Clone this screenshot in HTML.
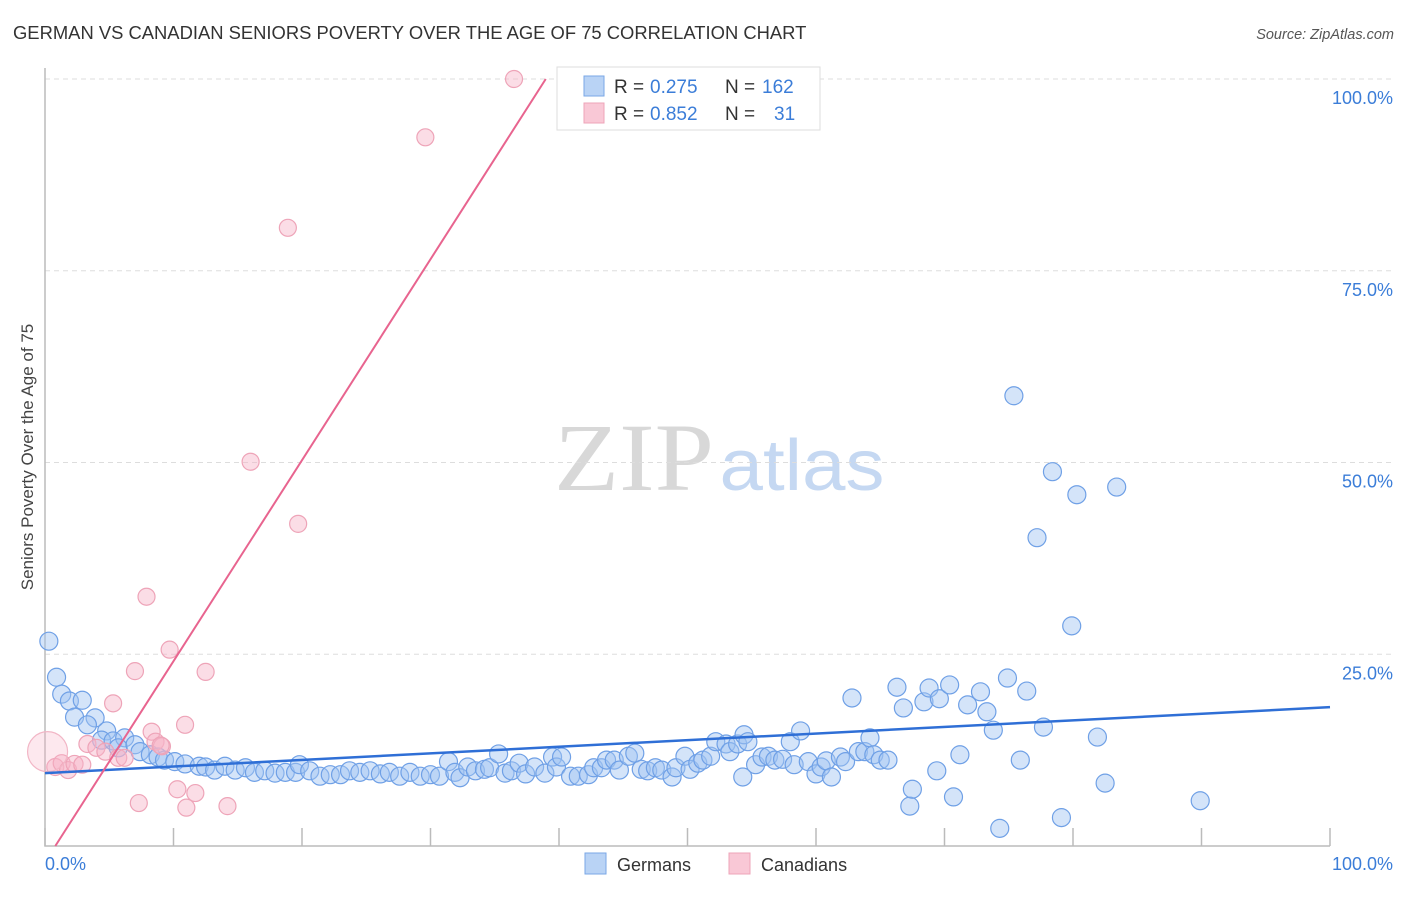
<!DOCTYPE html>
<html><head><meta charset="utf-8"><style>
body{margin:0;background:#fff;font-family:"Liberation Sans",sans-serif}
</style></head><body>
<svg id="c" width="1406" height="892" xmlns="http://www.w3.org/2000/svg">
<text x="13" y="39" font-size="18.4" fill="#333">GERMAN VS CANADIAN SENIORS POVERTY OVER THE AGE OF 75 CORRELATION CHART</text>
<text x="1394" y="39" font-size="14.5" fill="#555" font-style="italic" text-anchor="end">Source: ZipAtlas.com</text>
<text x="33" y="457" font-size="17" fill="#444" text-anchor="middle" transform="rotate(-90 33 457)">Seniors Poverty Over the Age of 75</text>
<g>
<text x="634" y="490" font-size="96" fill="#d8d8d8" font-family="Liberation Serif,serif" text-anchor="middle" textLength="160" lengthAdjust="spacingAndGlyphs">ZIP</text>
<text x="802" y="490" font-size="72" fill="#c5d8f2" text-anchor="middle" textLength="165" lengthAdjust="spacingAndGlyphs">atlas</text>
</g>
<g id="grid"></g><g id="axes"></g><g id="pts"></g><g id="lines"></g>
<g>
<rect x="557" y="67" width="263" height="63" fill="#fff" stroke="#ddd"/>
<rect x="584" y="76" width="20" height="20" fill="#b9d3f5" stroke="#7aa7e6"/>
<rect x="584" y="103" width="20" height="20" fill="#f9c8d6" stroke="#eea4b8"/>
<text x="614" y="93" font-size="19" fill="#333">R = </text><text x="650" y="93" font-size="19" fill="#3b7dd8">0.275</text>
<text x="725" y="93" font-size="19" fill="#333">N = </text><text x="762" y="93" font-size="19" fill="#3b7dd8">162</text>
<text x="614" y="120" font-size="19" fill="#333">R = </text><text x="650" y="120" font-size="19" fill="#3b7dd8">0.852</text>
<text x="725" y="120" font-size="19" fill="#333">N = </text><text x="774" y="120" font-size="19" fill="#3b7dd8">31</text>
</g>
<g>
<rect x="585" y="853" width="21" height="21" fill="#b9d3f5" stroke="#7aa7e6"/>
<text x="617" y="871" font-size="18" fill="#333">Germans</text>
<rect x="729" y="853" width="21" height="21" fill="#f9c8d6" stroke="#eea4b8"/>
<text x="761" y="871" font-size="18" fill="#333">Canadians</text>
</g>
<text x="45" y="870" font-size="18" fill="#3b7dd8">0.0%</text>
<text x="1393" y="870" font-size="18" fill="#3b7dd8" text-anchor="end">100.0%</text>
</svg>
<script>
const yTicks=[25,50,75,100];
const yTickLabels=["25.0%","50.0%","75.0%","100.0%"];
const xTicks=[0,10,20,30,40,50,60,70,80,90,100];
const blueX=[0.3,0.9,1.3,1.9,2.9,2.3,3.9,3.3,4.8,4.4,5.3,6.2,5.7,7.0,7.4,8.2,8.8,9.3,10.1,10.9,12.0,12.5,13.2,14.0,14.8,15.6,16.3,17.1,17.9,18.7,19.5,19.8,20.6,21.4,22.2,23.0,23.7,24.5,25.3,26.1,26.8,27.6,28.4,29.2,30.0,30.7,31.4,31.9,32.3,32.9,33.5,34.2,34.6,35.3,35.8,36.3,36.9,37.4,38.1,38.9,39.5,39.8,40.2,40.9,41.5,42.3,42.7,43.3,43.7,44.3,44.7,45.4,45.9,46.4,46.9,47.5,48.0,48.8,49.1,49.8,50.2,50.8,51.2,51.8,52.2,53.0,53.3,53.9,54.4,54.7,54.3,55.3,55.8,56.3,56.8,57.4,58.0,58.8,58.3,59.4,60.0,60.4,60.8,61.2,61.9,62.3,63.3,63.8,64.2,64.5,65.0,65.6,62.8,66.3,66.8,67.3,67.5,68.4,68.8,69.4,69.6,70.4,70.7,71.2,71.8,72.8,73.3,73.8,74.3,74.9,75.4,75.9,76.4,77.2,77.7,78.4,79.1,79.9,80.3,81.9,82.5,83.4,89.9];
const blueY=[26.7,22.0,19.8,18.9,19.0,16.8,16.7,15.8,15.0,13.8,13.7,14.1,12.8,13.2,12.3,11.9,11.6,11.2,11.0,10.7,10.4,10.3,9.9,10.4,9.9,10.2,9.6,9.8,9.5,9.6,9.6,10.6,9.8,9.1,9.3,9.3,9.8,9.6,9.8,9.4,9.6,9.1,9.6,9.1,9.3,9.1,11.0,9.6,8.9,10.3,9.8,10.0,10.2,12.0,9.5,9.8,10.8,9.4,10.3,9.5,11.6,10.3,11.6,9.1,9.1,9.3,10.2,10.2,11.2,11.2,9.9,11.7,12.1,10.0,9.8,10.2,9.9,9.0,10.2,11.7,10.0,10.8,11.2,11.7,13.6,13.3,12.3,13.3,14.5,13.6,9.0,10.6,11.6,11.7,11.2,11.3,13.6,15.0,10.6,11.0,9.4,10.3,11.1,9.0,11.6,11.0,12.3,12.3,14.1,11.9,11.2,11.2,19.3,20.7,18.0,5.2,7.4,18.8,20.6,9.8,19.2,21.0,6.4,11.9,18.4,20.1,17.5,15.1,2.3,21.9,58.7,11.2,20.2,40.2,15.5,48.8,3.7,28.7,45.8,14.2,8.2,46.8,5.9];
const pinkX=[0.8,1.3,1.8,2.3,2.9,3.3,4.0,4.7,5.3,5.7,6.2,7.3,7.9,7.0,8.3,8.6,9.1,9.7,10.3,10.9,11.0,11.7,12.5,14.2,16.0,18.9,19.7,29.6,36.5,9.0];
const pinkY=[10.3,10.8,9.9,10.7,10.6,13.3,12.8,12.3,18.6,11.5,11.5,5.6,32.5,22.8,14.9,13.6,13.0,25.6,7.4,15.8,5.0,6.9,22.7,5.2,50.1,80.6,42.0,92.4,100,13.1];
const pinkBigX=[0.2], pinkBigY=[12.3];
const blueTrend=[9.5,18.1];
const pinkTrend=[-2.1,2.62];
const X=v=>45+v*12.85, Y=v=>846-v*7.67;
const NS="http://www.w3.org/2000/svg";
function mk(tag,attrs,parent){const e=document.createElementNS(NS,tag);for(const k in attrs)e.setAttribute(k,attrs[k]);parent.appendChild(e);return e;}
const grid=document.getElementById('grid'),axes=document.getElementById('axes'),pts=document.getElementById('pts'),lines=document.getElementById('lines');
yTicks.forEach((t,i)=>{
 const l=mk('line',{x1:45,x2:1393,y1:Y(t),y2:Y(t),stroke:'#ddd','stroke-dasharray':'5,4'},grid);
 
 
 const tx=mk('text',{x:1393,y:Y(t)+25,'font-size':18,fill:'#3b7dd8','text-anchor':'end'},axes);
 tx.textContent=yTickLabels[i];
 
 
});
const ax=mk('path',{d:'M45 68V846H1330',stroke:'#bbb',fill:'none','stroke-width':1.5},axes);


xTicks.forEach(t=>{
 const l=mk('line',{x1:X(t),x2:X(t),y1:828,y2:846,stroke:'#bbb','stroke-width':1.5},axes);
 
 
});
blueX.forEach((x,i)=>{
 const c=mk('circle',{cx:X(x),cy:Y(blueY[i]),r:9,fill:'rgba(160,196,242,0.45)',stroke:'#6fa0e6','stroke-width':1.2},pts);
 
 
});
pinkX.forEach((x,i)=>{
 const c=mk('circle',{cx:X(x),cy:Y(pinkY[i]),r:8.5,fill:'rgba(247,180,200,0.45)',stroke:'#eea4b8','stroke-width':1.2},pts);
 
 
});
pinkBigX.forEach((x,i)=>{
 const c=mk('circle',{cx:X(x),cy:Y(pinkBigY[i]),r:20,fill:'rgba(247,180,200,0.3)',stroke:'#f2b6c6','stroke-width':1.2},pts);
 
 
});
const bl=mk('line',{x1:X(0),y1:Y(blueTrend[0]),x2:X(100),y2:Y(blueTrend[1]),stroke:'#2f6fd6','stroke-width':2.5},lines);


const x0=-pinkTrend[0]/pinkTrend[1], x1=(100-pinkTrend[0])/pinkTrend[1];
const pl=mk('line',{x1:X(x0),y1:Y(0),x2:X(x1),y2:Y(100),stroke:'#e8648f','stroke-width':2},lines);


</script>
</body></html>
